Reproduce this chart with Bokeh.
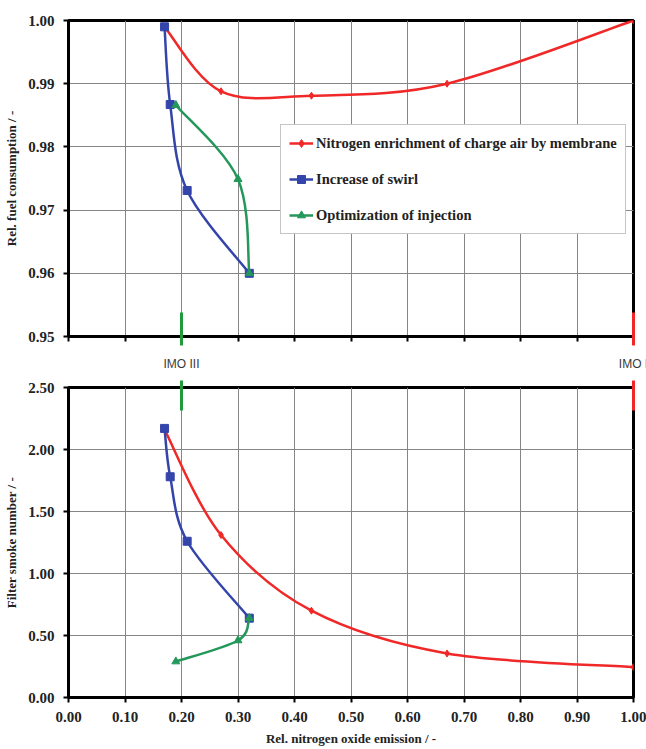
import numpy as np
from bokeh.plotting import figure
from bokeh.models import (Range1d, FixedTicker, NumeralTickFormatter, Legend,
                          LegendItem)
from bokeh.core.properties import value
from bokeh.layouts import column
from bokeh.embed import file_html
from bokeh.resources import INLINE

# ---------------- data ----------------
series_names = ["Nitrogen enrichment of charge air by membrane",
                "Increase of swirl",
                "Optimization of injection"]

nox_membrane = [0.17, 0.27, 0.43, 0.67, 1.00]
fuel_membrane = [0.9990, 0.9888, 0.9881, 0.9900, 1.0000]
fsn_membrane = [2.16, 1.31, 0.70, 0.355, 0.245]

nox_swirl = [0.17, 0.18, 0.21, 0.32]
fuel_swirl = [0.9990, 0.9867, 0.9731, 0.9600]
fsn_swirl = [2.17, 1.78, 1.26, 0.64]

nox_injection = [0.19, 0.30, 0.32]
fuel_injection = [0.9866, 0.9749, 0.9600]
fsn_injection = [0.29, 0.46, 0.64]

x_ticks = [0.0, 0.1, 0.2, 0.3, 0.4, 0.5, 0.6, 0.7, 0.8, 0.9, 1.0]
fuel_ticks = [0.95, 0.96, 0.97, 0.98, 0.99, 1.00]
fsn_ticks = [0.0, 0.5, 1.0, 1.5, 2.0, 2.5]

imo_nox = [0.20, 1.00]
imo_names = ["IMO III", "IMO I"]

# ---------------- styles ----------------
colors = ["#f02828", "#3344aa", "#23985a"]
markers = ["diamond", "square", "triangle"]
marker_sizes = [7, 8, 8]
imo_colors = ["#1f9a3c", "#f02828"]
FONT = "Liberation Serif"
W = 646
FRAME_W = 565
LEFT = 68


def smooth(xs, ys):
    x = np.asarray(xs, float)
    y = np.asarray(ys, float)
    qx = np.concatenate([[x[0]], x, [x[-1]]])
    qy = np.concatenate([[y[0]], y, [y[-1]]])
    i = np.arange(len(x) - 1)
    return dict(
        x0=qx[i + 1], y0=qy[i + 1], x1=qx[i + 2], y1=qy[i + 2],
        cx0=qx[i + 1] + (qx[i + 2] - qx[i]) / 6,
        cy0=qy[i + 1] + (qy[i + 2] - qy[i]) / 6,
        cx1=qx[i + 2] - (qx[i + 3] - qx[i + 1]) / 6,
        cy1=qy[i + 2] - (qy[i + 3] - qy[i + 1]) / 6,
    )


def make_fig(height, ymin, ymax, yticks, ytitle, top_b, bottom_b, show_x_labels):
    p = figure(width=W, height=height, output_backend="svg", toolbar_location=None,
               x_range=Range1d(0, 1), y_range=Range1d(ymin, ymax),
               min_border_left=LEFT, min_border_right=W - LEFT - FRAME_W,
               min_border_top=top_b, min_border_bottom=bottom_b,
               background_fill_color="white", border_fill_color="white")
    p.outline_line_color = "black"
    p.outline_line_width = 3
    p.xaxis.ticker = FixedTicker(ticks=x_ticks)
    p.yaxis.ticker = FixedTicker(ticks=yticks)
    p.xgrid.ticker = FixedTicker(ticks=x_ticks)
    p.ygrid.ticker = FixedTicker(ticks=yticks)
    for g in (p.xgrid, p.ygrid):
        g.grid_line_color = "#858585"
        g.grid_line_width = 1
    for ax in (p.xaxis, p.yaxis):
        ax.axis_line_width = 3
        ax.axis_line_color = "black"
        ax.major_tick_line_width = 2
        ax.major_tick_line_color = "black"
        ax.major_tick_in = 0
        ax.major_tick_out = 5
        ax.minor_tick_line_color = None
        ax.formatter = NumeralTickFormatter(format="0.00")
        ax.major_label_text_font = FONT
        ax.major_label_text_font_style = "bold"
        ax.major_label_text_font_size = "15px"
        ax.major_label_text_color = "#222222"
        ax.axis_label_text_font = FONT
        ax.axis_label_text_font_style = "bold"
        ax.axis_label_text_font_size = "13px"
        ax.axis_label_text_color = "#222222"
    p.yaxis.major_label_standoff = 9
    p.yaxis.axis_label = ytitle
    p.yaxis.axis_label_standoff = 6
    if show_x_labels:
        p.xaxis.major_label_standoff = 9
        p.xaxis.axis_label = "Rel. nitrogen oxide emission / -"
        p.xaxis.axis_label_standoff = 6
    else:
        p.xaxis.major_label_overrides = {t: "" for t in x_ticks}
        p.xaxis.major_label_standoff = 0
    return p


top = make_fig(375, 0.95, 1.00, fuel_ticks, "Rel. fuel consumption / -", 20, 39, False)
bot = make_fig(374, 0.0, 2.5, fsn_ticks, "Filter smoke number / -", 12, 52, True)

series_top = [(nox_membrane, fuel_membrane), (nox_swirl, fuel_swirl), (nox_injection, fuel_injection)]
series_bot = [(nox_membrane, fsn_membrane), (nox_swirl, fsn_swirl), (nox_injection, fsn_injection)]

items = []
for k in range(3):
    for p, (xs, ys) in ((top, series_top[k]), (bot, series_bot[k])):
        b = p.bezier(line_color=colors[k], line_width=2.5, **smooth(xs, ys))
        s = p.scatter(xs, ys, marker=markers[k], size=marker_sizes[k],
                      fill_color=colors[k], line_color=colors[k])
        if p is top:
            items.append(LegendItem(label=series_names[k], renderers=[b, s]))

legend = Legend(items=items, location=(212, 102))
legend.label_text_font = FONT
legend.label_text_font_style = "bold"
legend.label_text_font_size = "14.5px"
legend.label_text_color = "#222222"
legend.glyph_width = 24
legend.label_standoff = 3
legend.spacing = 16
legend.padding = 8
legend.margin = 0
legend.border_line_color = "#8c8c8c"
legend.border_line_width = 1
legend.background_fill_color = "white"
legend.background_fill_alpha = 1.0
top.add_layout(legend, "center")

# IMO limit markers (drawn above the guides so that they cross the axes)
top_px = 316 / (1.00 - 0.95)   # pixels per unit, top frame
bot_px = 310 / (2.5 - 0.0)     # pixels per unit, bottom frame
top.segment(x0=imo_nox, x1=imo_nox, y0=[0.95 + 24 / top_px] * 2, y1=[0.95 - 9 / top_px] * 2,
            line_color=imo_colors, line_width=3, level="overlay")
bot.segment(x0=imo_nox, x1=imo_nox, y0=[2.5 + 7 / bot_px] * 2, y1=[2.5 - 23 / bot_px] * 2,
            line_color=imo_colors, line_width=3, level="overlay")
top.text(x=imo_nox, y=[0.95 - 27 / top_px] * 2, text=imo_names,
         text_font=value("Liberation Sans"), text_font_size="12px", text_color="#3a3a3a",
         text_align="center", text_baseline="middle", level="overlay")

layout = column(top, bot, spacing=0)
open("out.html", "w").write(file_html(layout, INLINE))
